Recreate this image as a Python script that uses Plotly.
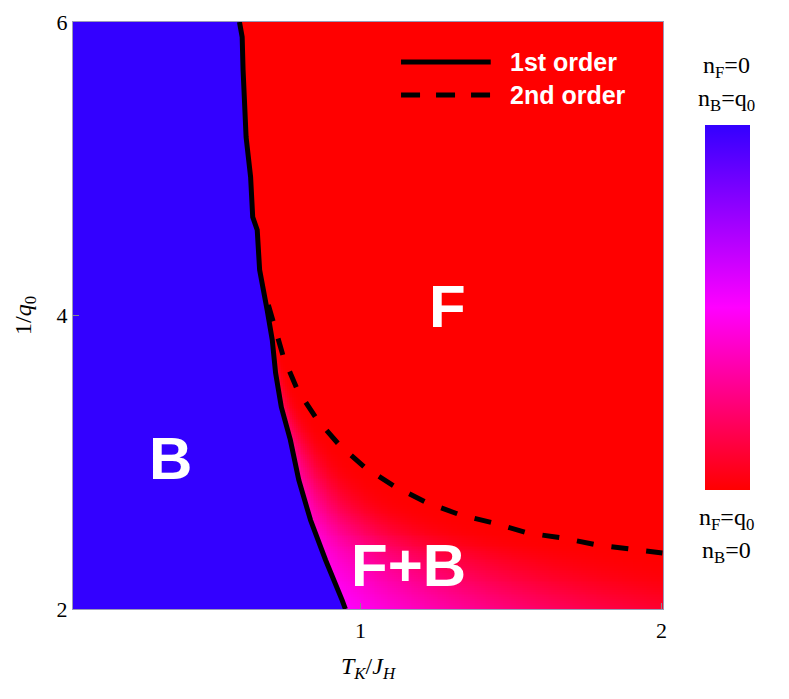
"""Phase diagram of the Kondo-Heisenberg mixture: B, F and F+B regions."""

import numpy as np
import plotly.graph_objects as go

# 1st order boundary, top to bottom
first_x = [0.598, 0.607, 0.610, 0.616, 0.620, 0.635, 0.642, 0.657, 0.665, 0.690,
           0.707, 0.718, 0.737, 0.767, 0.795, 0.834, 0.884, 0.939, 0.950]
first_y = [6.0, 5.898, 5.673, 5.400, 5.216, 4.944, 4.671, 4.583, 4.310, 4.037,
           3.833, 3.608, 3.376, 3.152, 2.879, 2.606, 2.334, 2.061, 2.0]

# 2nd order boundary, left to right
second_x = [0.694, 0.744, 0.791, 0.857, 0.927, 1.017, 1.116, 1.223, 1.332, 1.442,
            1.555, 1.671, 1.787, 1.897, 2.003]
second_y = [4.072, 3.717, 3.492, 3.288, 3.124, 2.961, 2.832, 2.722, 2.641, 2.586,
            2.518, 2.484, 2.436, 2.409, 2.382]
# where the 2nd order line would run below the frame (estimated)
second_x_beyond = [2.6, 3.4]
second_y_beyond = [2.2, 2.0]

# boson fraction n_B/q0 just right of the 1st order line
jump_y = [2.0, 2.5, 3.0, 3.5, 4.072]
jump_nb = [0.5, 0.42, 0.32, 0.18, 0.0]

x_range = [0.045, 2.005]
y_range = [2.0, 6.0]

# ---- fraction field ----
xs = np.linspace(x_range[0], x_range[1], 320)
ys = np.linspace(y_range[0], y_range[1], 320)
X, Y = np.meshgrid(xs, ys)

x1 = np.interp(ys, first_y[::-1], first_x[::-1])[:, None]
dx = list(second_x) + second_x_beyond
dy = list(second_y) + second_y_beyond
x2 = np.interp(ys, dy[::-1], dx[::-1])[:, None]
zj = np.interp(ys, jump_y, jump_nb)[:, None]

width = np.maximum(x2 - x1, 1e-6)
frac = np.clip((x2 - X) / width, 0, 1)
Z = zj * frac ** 3
Z = np.where(X < x1, 1.0, Z)
Z = np.round(Z, 3)

colorscale = [[0.0, "#ff0000"], [0.5, "#ff00ff"], [1.0, "#3300ff"]]

fig = go.Figure()
fig.add_trace(go.Heatmap(
    x=xs, y=ys, z=Z, zmin=0, zmax=1, colorscale=colorscale,
    hoverinfo="skip",
    colorbar=dict(
        x=1.071, xanchor="left", xref="paper", xpad=0, ypad=0,
        y=0.5136, yanchor="middle",
        thickness=45, lenmode="pixels", len=365,
        outlinewidth=0, showticklabels=False, ticks="",
    ),
))

fig.add_trace(go.Scatter(
    x=first_x, y=first_y, mode="lines",
    line=dict(color="black", width=5), showlegend=False, hoverinfo="skip",
))
fig.add_trace(go.Scatter(
    x=second_x, y=second_y, mode="lines",
    line=dict(color="black", width=5, dash="17px,18px"),
    showlegend=False, hoverinfo="skip",
))

# legend drawn by hand
fig.add_shape(type="line", xref="paper", yref="paper",
              x0=0.556, x1=0.708, y0=0.9319, y1=0.9319,
              line=dict(color="black", width=5))
fig.add_shape(type="line", xref="paper", yref="paper",
              x0=0.556, x1=0.708, y0=0.8756, y1=0.8756,
              line=dict(color="black", width=5, dash="19px,16px"))

bold = dict(family="Liberation Sans, Arial, sans-serif", color="white")
legend_txt = [("1st order", 0.9319), ("2nd order", 0.8756)]
for txt, yy in legend_txt:
    fig.add_annotation(text=f"<b>{txt}</b>", xref="paper", yref="paper",
                       x=0.738, y=yy, xanchor="left", yanchor="middle",
                       showarrow=False, font=dict(size=25, **bold))

regions = [("B", 0.1652, 0.2567), ("F", 0.6344, 0.5145), ("F+B", 0.5679, 0.0740)]
for txt, px, py in regions:
    fig.add_annotation(text=f"<b>{txt}</b>", xref="paper", yref="paper",
                       x=px, y=py, xanchor="center", yanchor="middle",
                       showarrow=False, font=dict(size=60, **bold))

serif = dict(family="Liberation Serif, Times New Roman, serif", color="black")
cb_labels = [
    ("n<sub>F</sub>=0", 1.108, 0.9233),
    ("n<sub>B</sub>=q<sub>0</sub>", 1.108, 0.8671),
    ("n<sub>F</sub>=q<sub>0</sub>", 1.108, 0.1533),
    ("n<sub>B</sub>=0", 1.108, 0.0971),
]
for txt, px, py in cb_labels:
    fig.add_annotation(text=txt, xref="paper", yref="paper",
                       x=px, y=py, xanchor="center", yanchor="middle",
                       showarrow=False, font=dict(size=24, **serif))

fig.update_xaxes(
    range=x_range, tickvals=[1, 2], ticks="inside", ticklen=6, tickcolor="#888",
    showgrid=False, zeroline=False, showline=True, linecolor="#9a9ab8", linewidth=1,
    mirror=True, tickfont=dict(size=22, **serif), ticklabelstandoff=2,
    automargin=False, ticklabeloverflow="allow",
    title=dict(text="<i>T</i><sub><i>K</i></sub>/<i>J</i><sub><i>H</i></sub>",
               font=dict(size=24, **serif), standoff=14),
)
fig.update_yaxes(
    range=y_range, tickvals=[2, 4, 6], ticks="inside", ticklen=6, tickcolor="#888",
    showgrid=False, zeroline=False, showline=True, linecolor="#9a9ab8", linewidth=1,
    mirror=True, tickfont=dict(size=22, **serif), automargin=False,
    ticklabeloverflow="allow",
    title=dict(text="1/<i>q</i><sub>0</sub>", font=dict(size=24, **serif), standoff=18),
)

# the page adds an 8px body margin, so the figure is a bit smaller than the window
fig.update_layout(
    width=781, height=691,
    margin=dict(l=65, r=126, t=14, b=90),
    paper_bgcolor="white", plot_bgcolor="white",
    showlegend=False,
)

fig.write_html("out.html")
